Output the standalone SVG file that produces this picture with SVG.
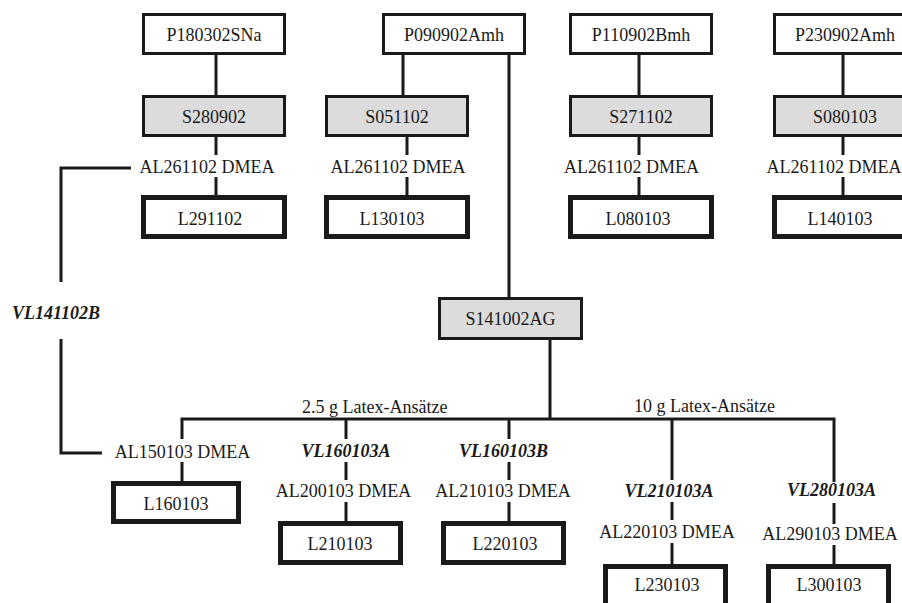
<svg xmlns="http://www.w3.org/2000/svg" width="902" height="603" viewBox="0 0 902 603">
  <style>
    .t { font-family: "Liberation Serif", "Times New Roman", serif; font-size: 18px; fill: #1a1a1a; text-anchor: middle; }
    .vl { font-weight: bold; font-style: italic; }
    .p { fill: #ffffff; stroke: #1a1a1a; stroke-width: 3; }
    .s { fill: #dcdcdc; stroke: #1a1a1a; stroke-width: 3; }
    .l { fill: #ffffff; stroke: #1a1a1a; stroke-width: 5; }
    .c { fill: none; stroke: #1a1a1a; stroke-width: 3; }
  </style>
  <rect width="902" height="603" fill="#ffffff"/>

  <!-- connectors -->
  <g id="connectors" class="c">
    <!-- column 1 -->
    <line x1="216" y1="55" x2="216" y2="95"/>
    <line x1="216" y1="137" x2="216" y2="155"/>
    <line x1="216" y1="177" x2="216" y2="195"/>
    <!-- column 2 -->
    <line x1="403" y1="55" x2="403" y2="95"/>
    <line x1="407" y1="137" x2="407" y2="155"/>
    <line x1="407" y1="177" x2="407" y2="195"/>
    <!-- column 3 -->
    <line x1="639" y1="55" x2="639" y2="95"/>
    <line x1="639" y1="137" x2="639" y2="155"/>
    <line x1="639" y1="177" x2="639" y2="195"/>
    <!-- column 4 -->
    <line x1="843" y1="55" x2="843" y2="95"/>
    <line x1="843" y1="137" x2="843" y2="155"/>
    <line x1="843" y1="177" x2="843" y2="195"/>
    <!-- P090902Amh to S141002AG -->
    <line x1="509" y1="55" x2="509" y2="297"/>
    <!-- VL141102B bracket -->
    <polyline points="131,168 61,168 61,282"/>
    <polyline points="61,339 61,453 102,453"/>
    <!-- S141002AG to bus -->
    <line x1="550" y1="340" x2="550" y2="419"/>
    <polyline points="182,439 182,419 834,419 834,482"/>
    <!-- branch 1 -->
    <line x1="182" y1="462" x2="182" y2="481"/>
    <!-- branch 2 -->
    <line x1="346" y1="419" x2="346" y2="439"/>
    <line x1="346" y1="462" x2="346" y2="480"/>
    <line x1="346" y1="502" x2="346" y2="521"/>
    <!-- branch 3 -->
    <line x1="509" y1="419" x2="509" y2="439"/>
    <line x1="509" y1="462" x2="509" y2="480"/>
    <line x1="509" y1="502" x2="509" y2="521"/>
    <!-- branch 4 -->
    <line x1="672" y1="419" x2="672" y2="480"/>
    <line x1="672" y1="502" x2="672" y2="520"/>
    <line x1="672" y1="543" x2="672" y2="564"/>
    <!-- branch 5 -->
    <line x1="834" y1="503" x2="834" y2="524"/>
    <line x1="834" y1="545" x2="834" y2="564"/>
  </g>

  <!-- top row -->
  <g id="P180302SNa"><rect class="p" x="143.5" y="14.5" width="141" height="39"/><text class="t" x="214" y="40.5">P180302SNa</text></g>
  <g id="P090902Amh"><rect class="p" x="383.5" y="14.5" width="141" height="39"/><text class="t" x="454" y="40.5">P090902Amh</text></g>
  <g id="P110902Bmh"><rect class="p" x="570.5" y="14.5" width="141" height="39"/><text class="t" x="641" y="40.5">P110902Bmh</text></g>
  <g id="P230902Amh"><rect class="p" x="774.5" y="14.5" width="141" height="39"/><text class="t" x="845" y="40.5">P230902Amh</text></g>

  <g id="S280902"><rect class="s" x="143.5" y="96.5" width="141" height="39"/><text class="t" x="214" y="122.5">S280902</text></g>
  <g id="S051102"><rect class="s" x="326.5" y="96.5" width="141" height="39"/><text class="t" x="397" y="122.5">S051102</text></g>
  <g id="S271102"><rect class="s" x="570.5" y="96.5" width="141" height="39"/><text class="t" x="641" y="122.5">S271102</text></g>
  <g id="S080103"><rect class="s" x="774.5" y="96.5" width="141" height="39"/><text class="t" x="845" y="122.5">S080103</text></g>

  <g id="AL261102-1"><text class="t" x="207" y="172.5">AL261102 DMEA</text></g>
  <g id="AL261102-2"><text class="t" x="398" y="172.5">AL261102 DMEA</text></g>
  <g id="AL261102-3"><text class="t" x="631.5" y="172.5">AL261102 DMEA</text></g>
  <g id="AL261102-4"><text class="t" x="834" y="172.5">AL261102 DMEA</text></g>

  <g id="L291102"><rect class="l" x="143.5" y="197.5" width="141" height="39"/><text class="t" x="210" y="225">L291102</text></g>
  <g id="L130103"><rect class="l" x="326.5" y="197.5" width="141" height="39"/><text class="t" x="392" y="225">L130103</text></g>
  <g id="L080103"><rect class="l" x="570.5" y="197.5" width="141" height="39"/><text class="t" x="638" y="225">L080103</text></g>
  <g id="L140103"><rect class="l" x="774.5" y="197.5" width="141" height="39"/><text class="t" x="840" y="225">L140103</text></g>

  <!-- side branch -->
  <g id="VL141102B"><text class="t vl" x="12" y="319" style="text-anchor:start">VL141102B</text></g>

  <!-- middle -->
  <g id="S141002AG"><rect class="s" x="439.5" y="298.5" width="142" height="40"/><text class="t" x="510.5" y="325">S141002AG</text></g>

  <g id="bus-labels">
    <text class="t" x="302" y="413" style="text-anchor:start">2.5 g Latex-Ansätze</text>
    <text class="t" x="634" y="412" style="text-anchor:start">10 g Latex-Ansätze</text>
  </g>

  <!-- bottom row -->
  <g id="AL150103"><text class="t" x="182.5" y="458">AL150103 DMEA</text></g>
  <g id="L160103"><rect class="l" x="113.5" y="483.5" width="125" height="38"/><text class="t" x="176" y="510">L160103</text></g>

  <g id="VL160103A"><text class="t vl" x="346" y="457">VL160103A</text></g>
  <g id="AL200103"><text class="t" x="343.5" y="497">AL200103 DMEA</text></g>
  <g id="L210103"><rect class="l" x="280.5" y="523.5" width="120" height="39"/><text class="t" x="340" y="550">L210103</text></g>

  <g id="VL160103B"><text class="t vl" x="503.5" y="457">VL160103B</text></g>
  <g id="AL210103"><text class="t" x="503" y="497">AL210103 DMEA</text></g>
  <g id="L220103"><rect class="l" x="443.5" y="523.5" width="120" height="39"/><text class="t" x="505" y="550">L220103</text></g>

  <g id="VL210103A"><text class="t vl" x="669" y="497">VL210103A</text></g>
  <g id="AL220103"><text class="t" x="667" y="538">AL220103 DMEA</text></g>
  <g id="L230103"><rect class="l" x="605.5" y="566.5" width="120" height="40"/><text class="t" x="667" y="591">L230103</text></g>

  <g id="VL280103A"><text class="t vl" x="831.5" y="496">VL280103A</text></g>
  <g id="AL290103"><text class="t" x="830" y="540">AL290103 DMEA</text></g>
  <g id="L300103"><rect class="l" x="768.5" y="566.5" width="120" height="40"/><text class="t" x="829" y="591">L300103</text></g>
</svg>
